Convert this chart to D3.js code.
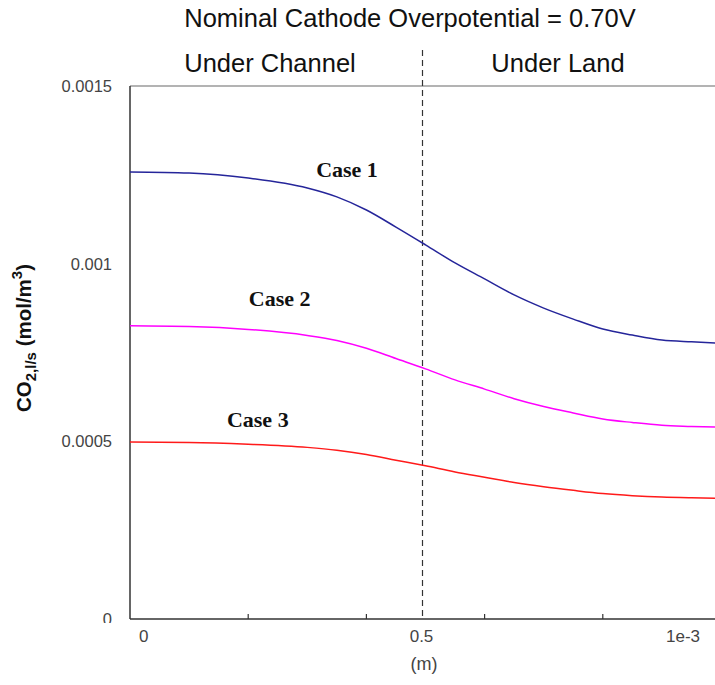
<!DOCTYPE html>
<html><head><meta charset="utf-8">
<script src="https://cdn.jsdelivr.net/npm/d3@7"></script>
<style>body{margin:0;background:#fff}svg{display:block}</style>
</head><body>
<svg id="c" width="715" height="685"></svg>
<script>
// x positions in units of 1e-3 m
const xs = [0, 0.1, 0.2, 0.3, 0.35, 0.4, 0.45, 0.5, 0.55, 0.6, 0.65, 0.7, 0.75, 0.8, 0.85, 0.9, 0.95, 0.99];
const case1 = [1.258, 1.255, 1.241, 1.213, 1.188, 1.151, 1.103, 1.053, 1.002, 0.957, 0.912, 0.875, 0.844, 0.816, 0.799, 0.785, 0.780, 0.777];
const case2 = [0.825, 0.823, 0.815, 0.798, 0.784, 0.762, 0.733, 0.704, 0.673, 0.647, 0.620, 0.598, 0.580, 0.563, 0.553, 0.545, 0.542, 0.540];
const case3 = [0.498, 0.497, 0.492, 0.483, 0.475, 0.463, 0.447, 0.431, 0.414, 0.399, 0.384, 0.372, 0.362, 0.353, 0.347, 0.343, 0.341, 0.340];
const seriesNames = ["Case 1", "Case 2", "Case 3"];
const seriesColors = ["#25259a", "#ff00ff", "#ff1a1a"];
const yTicks = [0, 0.0005, 0.001, 0.0015];
const yTickLabels = ["0", "0.0005", "0.001", "0.0015"];
const xMinorTicks = [0.0002, 0.0004, 0.0006, 0.0008];
const xLabelVals = [0, 0.0005, 0.001];
const xLabelText = ["0", "0.5", "1e-3"];
const divider = 0.0005;
const regionLabels = ["Under Channel", "Under Land"];
const labelPos = [[0.000315, 0.001244], [0.000201, 0.000881], [0.000164, 0.000540]];

const svg = d3.select("#c");
const x = d3.scaleLinear().domain([0, 0.001]).range([130, 721]);
const y = d3.scaleLinear().domain([0, 0.0015]).range([619, 86]);
const SANS = "Liberation Sans, Arial, sans-serif";

// top border
svg.append("line").attr("x1", 130).attr("x2", 715).attr("y1", y(0.0015)).attr("y2", y(0.0015))
  .attr("stroke", "#9a9a9a").attr("stroke-width", 1.5);

// y axis line
svg.append("line").attr("x1", 130).attr("x2", 130).attr("y1", y(0.0015)).attr("y2", y(0))
  .attr("stroke", "#333").attr("stroke-width", 1.5);
// x axis line
svg.append("line").attr("x1", 130).attr("x2", 715).attr("y1", y(0)).attr("y2", y(0))
  .attr("stroke", "#333").attr("stroke-width", 1.5);

// minor ticks
svg.selectAll(".xt").data(xMinorTicks).enter().append("line")
  .attr("x1", d => x(d)).attr("x2", d => x(d)).attr("y1", y(0)).attr("y2", y(0) - 5)
  .attr("stroke", "#333").attr("stroke-width", 1.2);

// y tick labels
svg.append("clipPath").attr("id", "clipY").append("rect").attr("x", 0).attr("y", 0).attr("width", 130).attr("height", 623);
svg.selectAll(".yl").data(yTicks).enter().append("text")
  .attr("x", 112).attr("y", d => y(d) + 6)
  .attr("text-anchor", "end").attr("font-family", SANS)
  .attr("font-size", 16.5).attr("fill", "#444")
  .attr("clip-path", "url(#clipY)")
  .text((d, i) => yTickLabels[i]);

// x tick labels
const anchors = ["start", "middle", "end"];
const offs = [9, -4, -15];
svg.selectAll(".xl").data(xLabelVals).enter().append("text")
  .attr("x", (d, i) => Math.min(x(d), 715) + offs[i]).attr("y", y(0) + 23)
  .attr("text-anchor", (d, i) => anchors[i])
  .attr("font-family", SANS)
  .attr("font-size", 17).attr("fill", "#444")
  .text((d, i) => xLabelText[i]);

// x axis title
svg.append("text").attr("x", 424).attr("y", 670).attr("text-anchor", "middle")
  .attr("font-family", SANS).attr("font-size", 18).attr("fill", "#444")
  .text("(m)");

// y axis title
const yt = svg.append("text").attr("transform", "translate(31,338) rotate(-90)")
  .attr("text-anchor", "middle").attr("font-family", SANS)
  .attr("font-size", 20.5).attr("font-weight", "bold").attr("fill", "#111");
yt.append("tspan").text("CO");
yt.append("tspan").attr("font-size", 15).attr("dy", 5).text("2,l/s");
yt.append("tspan").attr("dy", -5).text(" (mol/m");
yt.append("tspan").attr("font-size", 15).attr("dy", -9).text("3");
yt.append("tspan").attr("dy", 9).text(")");

// divider
svg.append("line").attr("x1", x(divider) - 3).attr("x2", x(divider) - 3).attr("y1", 50).attr("y2", y(0))
  .attr("stroke", "#333").attr("stroke-width", 1.2).attr("stroke-dasharray", "6,4");

// title and regions
svg.append("text").attr("x", 410).attr("y", 27).attr("text-anchor", "middle")
  .attr("font-family", SANS).attr("font-size", 25.5).attr("fill", "#111")
  .text("Nominal Cathode Overpotential = 0.70V");
svg.append("text").attr("x", 270).attr("y", 72).attr("text-anchor", "middle")
  .attr("font-family", SANS).attr("font-size", 25.5).attr("fill", "#111")
  .text(regionLabels[0]);
svg.append("text").attr("x", 558).attr("y", 72).attr("text-anchor", "middle")
  .attr("font-family", SANS).attr("font-size", 25.5).attr("fill", "#111")
  .text(regionLabels[1]);

// lines
const series = [case1, case2, case3];
const line = d3.line().curve(d3.curveMonotoneX).x(d => x(d[0] * 1e-3)).y(d => y(d[1] * 1e-3));
svg.append("clipPath").attr("id", "clipP").append("rect").attr("x", 130).attr("y", 86).attr("width", 585).attr("height", 533);
series.forEach((s, i) => {
  svg.append("path").datum(xs.map((v, j) => [v, s[j]]))
    .attr("d", line).attr("fill", "none").attr("stroke", seriesColors[i]).attr("stroke-width", 1.5)
    .attr("clip-path", "url(#clipP)");
  svg.append("text").attr("x", x(labelPos[i][0])).attr("y", y(labelPos[i][1]))
    .attr("font-family", "Liberation Serif, Times New Roman, serif").attr("font-weight", "bold")
    .attr("font-size", 22).attr("fill", "#111").text(seriesNames[i]);
});
</script>
</body></html>
